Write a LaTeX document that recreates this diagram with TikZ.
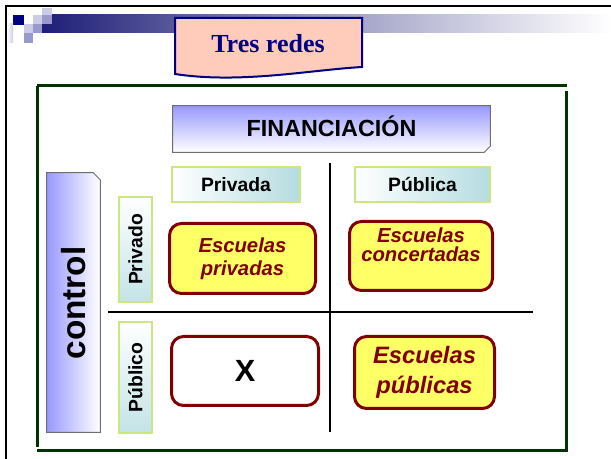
\documentclass[tikz,border=0pt]{standalone}
\usepackage{fontspec}
\setmainfont{Liberation Sans}
\newfontfamily\titelfont{Liberation Serif}
\usetikzlibrary{calc}

\definecolor{marino}{RGB}{0,0,128}
\definecolor{barra}{RGB}{30,30,120}
\definecolor{lila}{RGB}{204,204,230}
\definecolor{lilaosc}{RGB}{153,153,204}
\definecolor{salmon}{RGB}{255,204,187}
\definecolor{verde}{RGB}{0,51,0}
\definecolor{malva}{RGB}{153,153,255}
\definecolor{borde}{RGB}{110,110,110}
\definecolor{kopfrand}{RGB}{204,230,128}
\definecolor{turquesa}{RGB}{180,220,224}
\definecolor{vino}{RGB}{128,0,0}
\definecolor{amarillo}{RGB}{255,255,102}

\newdimen\pxu \pxu=0.75pt

\begin{document}
\begin{tikzpicture}[x=0.75pt, y=-0.75pt,
    kopf/.style={draw=kopfrand, line width=1.5\pxu, left color=white, right color=turquesa,
        font=\fontsize{14.5}{17}\selectfont\bfseries},
    kopfv/.style={kopf, rotate=90, top color=white, bottom color=turquesa!80},
    escuela/.style={draw=vino, line width=3\pxu, rounded corners=12\pxu, fill=amarillo,
        text=vino, align=center},
    linea/.style={line width=2.5\pxu}]
    \useasboundingbox (0,0) rectangle (611,459);

    % Rahmen der Folie
    \draw[line width=2\pxu] (611,6) -- (6,6) -- (6,459);

    % Kopfleiste mit Quadraten
    \shade[left color=barra, right color=white, middle color=barra!45] (42,15) rectangle (611,33);
    \fill[marino] (13,15) rectangle (24,25);
    \fill[lila] (33,15) rectangle (42,24);
    \fill[lila] (24,24) rectangle (33,33);
    \fill[lila] (42,8) rectangle (52,15);
    \fill[lilaosc] (42,15) rectangle (52,24);
    \fill[lilaosc] (33,24) rectangle (42,33);
    \fill[lilaosc] (24,33) rectangle (33,43);
    \shade[left color=white, right color=lila] (7,24) rectangle (13,43);

    % Titel
    \filldraw[draw=marino, fill=salmon, line width=2\pxu] (175,18) -- (362,18) -- (362,67)
        .. controls (310,70) and (240,84) .. (175,74) -- cycle;
    \node[text=marino, font=\titelfont\fontsize{19.5}{22}\selectfont\bfseries] (titulo) at (268,44) {Tres redes};

    % gruener Rahmen
    \draw[verde, line width=3\pxu] (37,86) -- (567,86);
    \draw[verde, line width=3\pxu] (37,86) -- (37,447);
    \draw[verde, line width=3\pxu] (37,451) -- (567,451);
    \draw[verde, line width=3\pxu] (566,91) -- (566,452);

    % FINANCIACION
    \node[top color=malva, bottom color=white, minimum width=317\pxu, minimum height=46\pxu,
        inner sep=0pt] (fin) at (331.5,129) {};
    \fill[white] (fin.south east) -- ++(0,-6) -- ++(-6,6) -- cycle;
    \draw[borde, line width=1\pxu] (fin.north west) -- (fin.north east) -- ($(fin.south east)+(0,-6)$)
        -- ($(fin.south east)+(-6,0)$) -- (fin.south west) -- cycle;
    \node[font=\fontsize{17.5}{20}\selectfont\bfseries] (fintxt) at (331.5,126) {FINANCIACIÓN};

    % control
    \node[left color=malva, right color=white, minimum width=53\pxu, minimum height=259\pxu,
        inner sep=0pt] (ctrl) at (73.5,302.5) {};
    \fill[white] (ctrl.north east) -- ++(-7,0) -- ++(7,7) -- cycle;
    \draw[borde, line width=1\pxu] (ctrl.north west) -- ($(ctrl.north east)+(-7,0)$)
        -- ($(ctrl.north east)+(0,7)$) -- (ctrl.south east) -- (ctrl.south west) -- cycle;
    \node[rotate=90, font=\fontsize{25}{28}\selectfont\bfseries] (ctrltxt) at (73.5,303) {control};

    % Trennlinien
    \draw[linea] (330,163) -- (330,432);
    \draw[linea] (108,312) -- (533,312);

    % Spalten und Zeilen
    \node[kopf, minimum width=128\pxu, minimum height=35\pxu] (privada) at (236,184.5) {Privada};
    \node[kopf, minimum width=135\pxu, minimum height=35\pxu] (publica) at (422.5,184.5) {Pública};
    \node[kopfv, minimum width=105\pxu, minimum height=33\pxu] (privado) at (135.5,249.5) {Privado};
    \node[kopfv, minimum width=111\pxu, minimum height=33\pxu] (publico) at (135.5,377.5) {Público};

    % Schulen
    \node[escuela, minimum width=146\pxu, minimum height=70\pxu,
        font=\fontsize{15.2}{17}\selectfont\bfseries\itshape] (privadas) at (242.5,258.5) {Escuelas\\privadas};
    \node[escuela, minimum width=143\pxu, minimum height=69\pxu] (concertadas) at (421,256) {};
    \node[text=vino, align=center, font=\fontsize{15.2}{14.5}\selectfont\bfseries\itshape]
        (concertadastxt) at (421,245) {Escuelas\\concertadas};
    \node[escuela, fill=white, text=black, minimum width=147\pxu, minimum height=69\pxu,
        font=\fontsize{23}{26}\selectfont\bfseries] (nada) at (245,371) {X};
    \node[escuela, minimum width=140\pxu, minimum height=72\pxu,
        font=\fontsize{17.8}{22.5}\selectfont\bfseries\itshape] (publicas) at (424.5,372.5) {Escuelas\\públicas};
\end{tikzpicture}
\end{document}
